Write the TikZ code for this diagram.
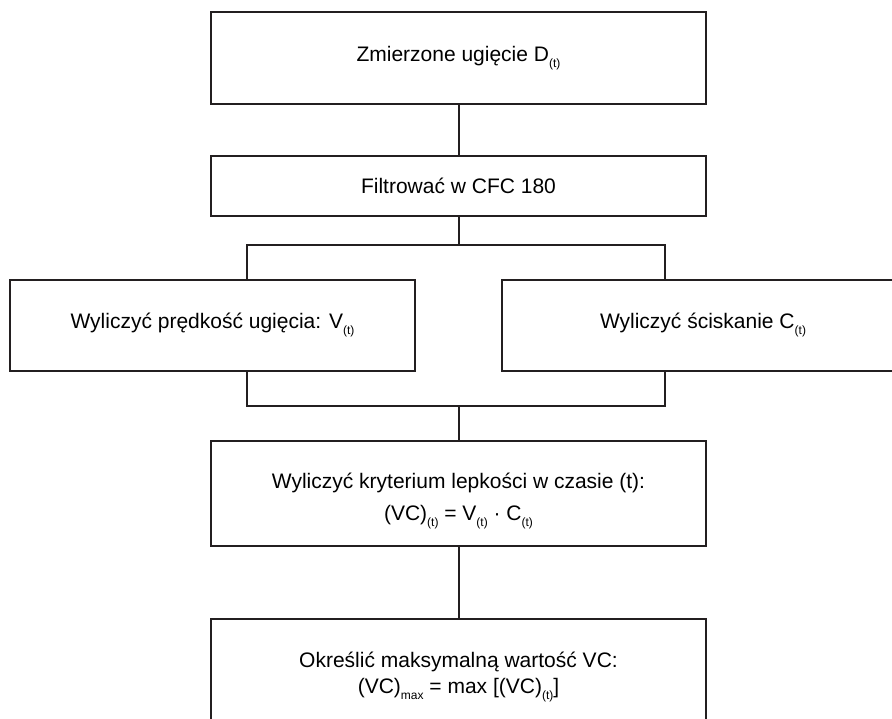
\documentclass[tikz,border=0pt]{standalone}
\usepackage{fontspec}
\setmainfont{Liberation Sans}
\usetikzlibrary{positioning}
\definecolor{ramka}{RGB}{35,31,32}
\newcommand{\indt}{\raisebox{-3pt}{\fontsize{6}{6}\selectfont(t)}}
\newcommand{\indmax}{\raisebox{-3pt}{\fontsize{6}{6}\selectfont max}}
\tikzset{
  krok/.style={draw=ramka, line width=1pt, fill=white, align=center, inner sep=0pt,
    font=\fontsize{10.5}{16}\selectfont},
  linia/.style={draw=ramka, line width=1pt}
}

\begin{document}
\begin{tikzpicture}[x=0.5pt,y=-0.5pt]
\useasboundingbox (0,0) rectangle (892,718);
\clip (0,0) rectangle (892,718);
% Pomiar i filtr
\node[krok, minimum width=247.5pt, minimum height=46pt] (zmierz) at (458.5,58) {Zmierzone ugięcie D\indt};
\node[krok, minimum width=247.5pt, minimum height=30pt] (filtr) at (458.5,186) {Filtrować w CFC 180};
% V i C
\node[krok, minimum width=202.5pt, minimum height=45.5pt] (predk) at (212.5,325.5) {Wyliczyć prędkość ugięcia: V\indt};
\node[krok, minimum width=201pt, minimum height=45.5pt] (scisk) at (703,325.5) {Wyliczyć ściskanie C\indt};
% VC
\node[krok, minimum width=247.5pt, minimum height=52.5pt, text height=31pt] (kryt) at (458.5,493.5) {Wyliczyć kryterium lepkości w czasie (t):\\(VC)\indt{} = V\indt{} · C\indt};
\node[krok, minimum width=247.5pt, minimum height=58pt, font=\fontsize{10.5}{13}\selectfont] (maks) at (458.5,677) {Określić maksymalną wartość VC:\\(VC)\indmax{} = max [(VC)\indt]};
% rozgalezienie
\coordinate (lg) at (247,245);
\coordinate (pg) at (665,245);
\coordinate (ld) at (247,406);
\coordinate (pd) at (665,406);
\draw[linia] (zmierz) -- (filtr);
\draw[linia] (filtr.south) -- (filtr.south |- lg);
\draw[linia] (predk.north -| lg) -- (lg) -- (pg) -- (scisk.north -| pg);
\draw[linia] (predk.south -| ld) -- (ld) -- (pd) -- (scisk.south -| pd);
\draw[linia] (kryt.north |- ld) -- (kryt.north);
\draw[linia] (kryt) -- (maks);
\end{tikzpicture}
\end{document}
